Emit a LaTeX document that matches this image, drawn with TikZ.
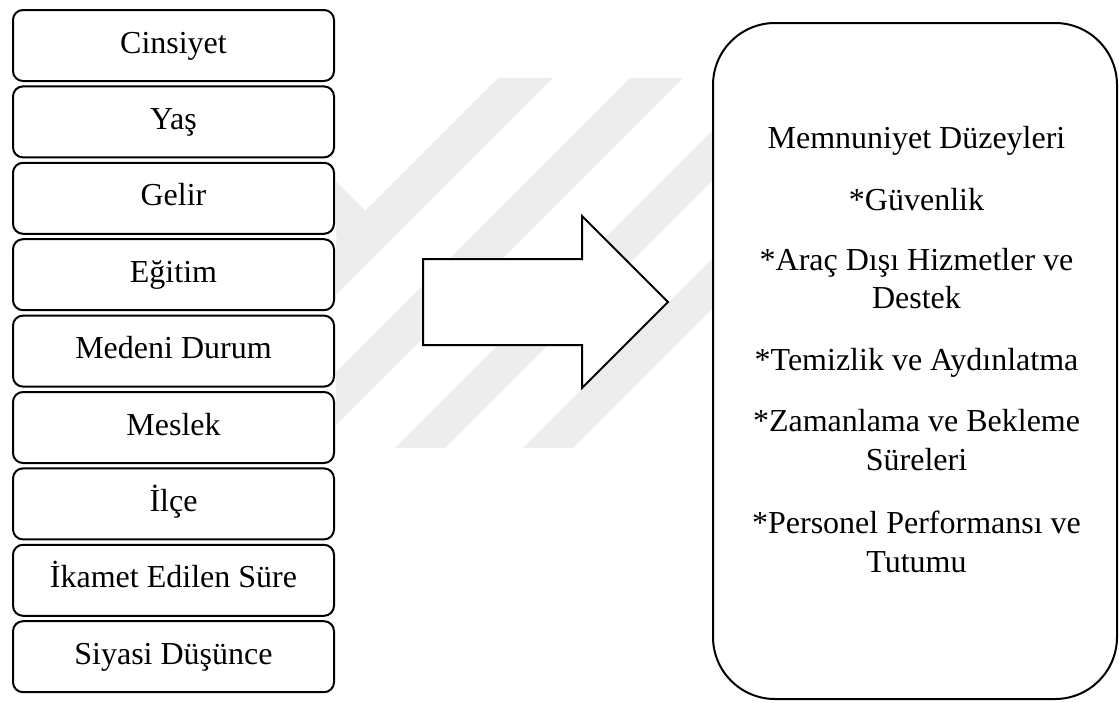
\documentclass[tikz,border=0pt]{standalone}
\usepackage{fontspec}
\setmainfont{Liberation Serif}
\definecolor{wmgray}{HTML}{EDEDED}
\begin{document}
\begin{tikzpicture}[x=1pt,y=-1pt,
  demog/.style={draw=black, line width=2pt, rounded corners=10pt, fill=white,
    minimum width=321pt, minimum height=71pt, inner sep=0pt, outer sep=0pt,
    font=\fontsize{32}{38}\selectfont, text height=22pt, text depth=7pt},
  bigbox/.style={draw=black, line width=2pt, rounded corners=62pt, fill=white,
    minimum width=404pt, minimum height=676pt, inner sep=0pt, outer sep=0pt},
  rline/.style={anchor=base, inner sep=0pt, font=\fontsize{32}{38}\selectfont},
  blockarrow/.style={draw=black, line width=2pt, fill=white, line join=miter},
  mark/.style={fill=wmgray}
]
\useasboundingbox (0,0) rectangle (1119,702);

% faint watermark
\begin{scope}
  \clip (336,0) rectangle (1119,702);
  \fill[wmgray] (498,78) -- (553,78) -- (183,448) -- (128,448) -- cycle;
  \fill[wmgray] (365.5,210.5) -- (250,95) -- (250,151) -- (365,266) -- cycle;
  \fill[wmgray] (630,78) -- (683,78) -- (313,448) -- (260,448) -- cycle;
  \fill[wmgray] (765,78) -- (815,78) -- (445,448) -- (395,448) -- cycle;
  \fill[wmgray] (893,78) -- (943,78) -- (573,448) -- (523,448) -- cycle;
\end{scope}

% left boxes
\node[demog] (b1) at (173.5,45.5) {Cinsiyet};
\node[demog] (b2) at (173.5,121.9) {Yaş};
\node[demog] (b3) at (173.5,198.3) {Gelir};
\node[demog] (b4) at (173.5,274.7) {Eğitim};
\node[demog] (b5) at (173.5,351.1) {Medeni Durum};
\node[demog] (b6) at (173.5,427.5) {Meslek};
\node[demog] (b7) at (173.5,503.9) {İlçe};
\node[demog] (b8) at (173.5,580.3) {İkamet Edilen Süre};
\node[demog] (b9) at (173.5,656.7) {Siyasi Düşünce};

% block arrow
\draw[blockarrow] (423,259) -- (582,259) -- (582,216) -- (668,302)
  -- (582,388) -- (582,345) -- (423,345) -- cycle;

% right box
\node[bigbox] (sat) at (915,361) {};
\node[rline] (t1) at (916.5,148.3) {Memnuniyet Düzeyleri};
\node[rline] (t2) at (916.5,210) {*Güvenlik};
\node[rline] (t3) at (916.5,270.7) {*Araç Dışı Hizmetler ve};
\node[rline] (t3b) at (916.5,308.5) {Destek};
\node[rline] (t4) at (916.5,370.7) {*Temizlik ve Aydınlatma};
\node[rline] (t5) at (916.5,431.7) {*Zamanlama ve Bekleme};
\node[rline] (t5b) at (916.5,470.5) {Süreleri};
\node[rline] (t6) at (916.5,533) {*Personel Performansı ve};
\node[rline] (t6b) at (916.5,572) {Tutumu};
\end{tikzpicture}
\end{document}
